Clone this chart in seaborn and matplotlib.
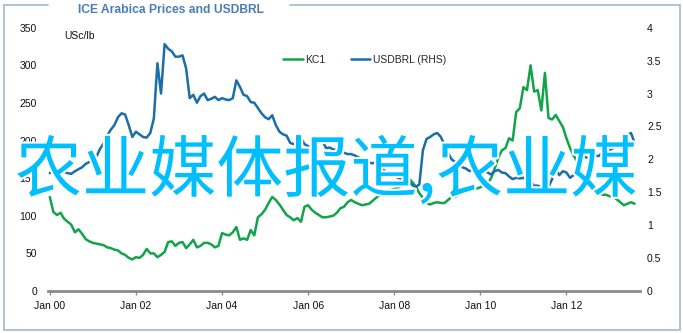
import numpy as np
import pandas as pd
import matplotlib
matplotlib.use("Agg")
import matplotlib.pyplot as plt
import seaborn as sns
from matplotlib import patheffects as pe
from matplotlib.lines import Line2D

# ---- data (monthly, Jan 2000 .. Aug 2013) ----
kc1 = [
    125, 105, 101, 104, 96, 92, 88, 78, 82, 76, 69, 66,          # 2000
    64, 63, 62, 61, 58, 57, 55, 54, 50, 48, 44, 42,              # 2001
    45, 44, 48, 56, 50, 50, 45, 48, 52, 65, 66, 60,              # 2002
    64, 65, 57, 62, 68, 58, 60, 64, 64, 62, 58, 60,              # 2003
    77, 75, 74, 78, 85, 68, 70, 68, 81, 74, 98, 102,             # 2004
    108, 117, 125, 121, 115, 108, 101, 98, 94, 97, 92, 112,      # 2005
    114, 108, 104, 101, 98, 98, 99, 100, 104, 110, 112, 118,     # 2006
    121, 118, 116, 114, 115, 116, 120, 124, 128, 130, 132, 134,  # 2007
    136, 137, 140, 143, 150, 145, 139, 130, 124, 117, 115, 117,  # 2008
    118, 117, 117, 121, 125, 125, 128, 134, 136, 135, 134, 136,  # 2009
    138, 140, 143, 150, 163, 177, 187, 190, 203, 200, 238, 243,  # 2010
    271, 267, 300, 265, 267, 240, 290, 230, 228, 234, 226, 218,  # 2011
    203, 190, 180, 172, 160, 150, 142, 138, 134, 130, 128, 128,  # 2012
    126, 125, 122, 118, 114, 116, 118, 116,                      # 2013
]
usdbrl = [
    1.79, 1.84, 1.80, 1.83, 1.81, 1.79, 1.78, 1.82, 1.85, 1.88, 1.93, 1.96,
    2.00, 2.04, 2.16, 2.24, 2.36, 2.45, 2.52, 2.64, 2.70, 2.68, 2.52, 2.34,
    2.42, 2.38, 2.34, 2.33, 2.40, 2.62, 3.46, 3.00, 3.75, 3.68, 3.64, 3.56,
    3.56, 3.58, 3.38, 2.93, 2.98, 2.86, 2.96, 3.00, 2.90, 2.92, 2.95, 2.90,
    2.93, 2.91, 2.90, 2.93, 3.20, 3.10, 2.98, 2.96, 2.87, 2.86, 2.78, 2.70,
    2.64, 2.61, 2.67, 2.52, 2.42, 2.38, 2.36, 2.25, 2.23, 2.26, 2.32, 2.23,
    2.20, 2.17, 2.22, 2.30, 2.28, 2.17, 2.18, 2.15, 2.14, 2.12, 2.10, 2.08,
    2.08, 2.06, 2.03, 2.01, 1.97, 1.95, 1.94, 1.96, 1.88, 1.84, 1.80, 1.79,
    1.78, 1.72, 1.70, 1.71, 1.66, 1.61, 1.58, 1.62, 2.14, 2.31, 2.34, 2.38,
    2.40, 2.34, 2.22, 2.10, 2.00, 1.96, 1.92, 1.88, 1.86, 1.82, 1.86, 1.88,
    1.79, 1.84, 1.80, 1.77, 1.82, 1.84, 1.80, 1.79, 1.74, 1.70, 1.72, 1.71,
    1.72, 1.67, 1.66, 1.60, 1.60, 1.58, 1.56, 1.58, 1.70, 1.86, 1.76, 1.82,
    1.80, 1.72, 1.76, 1.85, 1.98, 2.04, 2.02, 2.05, 2.06, 2.05, 2.10, 2.11,
    2.14, 2.17, 2.20, 2.22, 2.27, 2.37, 2.40, 2.25,
]
tick_months = [0, 24, 48, 72, 96, 120, 144]
tick_labels = ["Jan 00", "Jan 02", "Jan 04", "Jan 06", "Jan 08", "Jan 10", "Jan 12"]
left_ticks = [0, 50, 100, 150, 200, 250, 300, 350]
right_ticks = [0, 0.5, 1, 1.5, 2, 2.5, 3, 3.5, 4]
right_labels = ["0", "0.5", "1", "1.5", "2", "2.5", "3", "3.5", "4"]
series_names = ["KC1", "USDBRL (RHS)"]

GREEN = "#12A44A"
BLUE = "#1B6EA6"

sns.set_theme(style="white")
plt.rcParams['font.family'] = ['Liberation Sans', 'DejaVu Sans']

W, H = 683, 333
fig = plt.figure(figsize=(W / 100, H / 100), dpi=100)
fig.patch.set_facecolor("white")
ax = fig.add_axes([48 / W, (H - 291) / H, (640 - 48) / W, (291 - 27.7) / H])
ax2 = ax.twinx()

df = pd.DataFrame({"month": np.arange(len(kc1)), "KC1": kc1, "USDBRL": usdbrl})
sns.lineplot(data=df, x="month", y="KC1", ax=ax, color=GREEN, linewidth=1.8)
sns.lineplot(data=df, x="month", y="USDBRL", ax=ax2, color=BLUE, linewidth=1.8)

ax.set_xlim(-0.5, 164.5)
ax.set_ylim(0, 350)
ax2.set_ylim(0, 4)
for a in (ax, ax2):
    a.set_xlabel("")
    a.set_ylabel("")
    for s in a.spines.values():
        s.set_visible(False)
ax.spines["bottom"].set_visible(True)
ax.spines["bottom"].set_color("#8A8A8A")
ax.spines["bottom"].set_linewidth(2)

ax.set_xticks(tick_months)
ax.set_xticklabels(tick_labels)
ax.set_yticks(left_ticks)
ax.set_yticklabels([str(v) for v in left_ticks])
ax2.set_yticks(right_ticks)
ax2.set_yticklabels(right_labels)
ax.tick_params(axis="x", length=3, width=1, color="#8A8A8A", pad=4, labelsize=7.5, labelcolor="#111111", bottom=True)
ax.tick_params(axis="y", length=0, pad=8, labelsize=7.5, labelcolor="#111111")
ax2.tick_params(axis="y", length=0, pad=5, labelsize=7.5, labelcolor="#111111")
ax.grid(False)
ax2.grid(False)

handles = [Line2D([], [], color=GREEN, lw=1.8), Line2D([], [], color=BLUE, lw=1.8)]
fig.legend(handles, series_names, loc="center left", bbox_to_anchor=(283 / W, 1 - 60 / H),
           ncol=2, frameon=False, fontsize=7.5, handlelength=1.9, handletextpad=0.25,
           columnspacing=2.4, borderpad=0, borderaxespad=0)

fig.text(64 / W, 1 - 36 / H, "USc/lb", fontsize=7.5, va="center", ha="left", color="#111111")
fig.text(78 / W, 1 - 10 / H, "ICE Arabica Prices and USDBRL", fontsize=8.7, fontweight="bold",
         va="center", ha="left", color="#4A7DB5")

# frame around chart
fc = "#A6BED6"
for (x0, y0, x1, y1) in [(4, 5, 48, 5), (290, 5, 680, 5), (4, 5, 4, 330), (680, 5, 680, 330), (4, 330, 680, 330)]:
    fig.add_artist(Line2D([x0 / W, x1 / W], [1 - y0 / H, 1 - y1 / H], transform=fig.transFigure,
                          color=fc, lw=1.3))

fig.text(15 / W, 1 - 172 / H, "农业媒体报道,农业媒", fontsize=48.3, color="#00BFFF",
         family=["Noto Sans CJK SC", "DejaVu Sans"], va="center", ha="left", zorder=10,
         path_effects=[pe.withStroke(linewidth=3, foreground="white")])

fig.savefig("out.png", dpi=100)
